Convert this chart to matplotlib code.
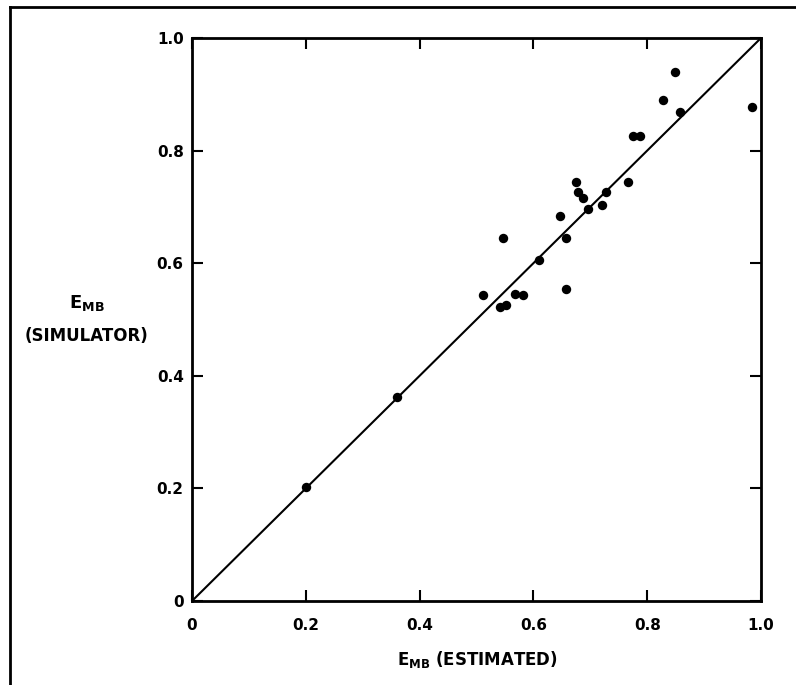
import matplotlib
matplotlib.use("Agg")
import matplotlib.pyplot as plt
from matplotlib.lines import Line2D

# Data
emb_estimated = [0.200, 0.361, 0.511, 0.542, 0.551, 0.547, 0.567, 0.582, 0.609,
                 0.647, 0.658, 0.658, 0.675, 0.679, 0.688, 0.696, 0.721, 0.728,
                 0.767, 0.775, 0.788, 0.828, 0.849, 0.858, 0.984]
emb_simulator = [0.202, 0.363, 0.544, 0.523, 0.525, 0.644, 0.546, 0.543, 0.606,
                 0.684, 0.645, 0.555, 0.745, 0.727, 0.716, 0.697, 0.704, 0.727,
                 0.745, 0.826, 0.826, 0.890, 0.940, 0.869, 0.878]
tick_values = [0, 0.2, 0.4, 0.6, 0.8, 1.0]
tick_labels = ["0", "0.2", "0.4", "0.6", "0.8", "1.0"]
diag = [0, 1]

plt.rcParams['font.family'] = ['DejaVu Sans']

W, H = 796, 685
fig = plt.figure(figsize=(W / 100, H / 100), dpi=100)
ax = fig.add_axes([192 / W, (H - 601) / H, (761 - 192) / W, (601 - 38) / H])

ax.plot(diag, diag, color='black', lw=1.5, solid_capstyle='butt')
ax.scatter(emb_estimated, emb_simulator, s=46, color='black', zorder=3,
           clip_on=False, linewidths=0)

ax.set_xlim(0, 1)
ax.set_ylim(0, 1)
ax.set_xticks(tick_values)
ax.set_yticks(tick_values)
ax.set_xticklabels(tick_labels, fontsize=11, fontweight='bold')
ax.set_yticklabels(tick_labels, fontsize=11, fontweight='bold')
ax.tick_params(axis='both', direction='in', length=8, width=1.5,
               top=True, right=True, colors='black')
ax.tick_params(axis='x', pad=12)
ax.tick_params(axis='y', pad=6)
for sp in ax.spines.values():
    sp.set_linewidth(2)

fig.text(477 / W, 1 - 660 / H, r'E$_{\mathbf{MB}}$ (ESTIMATED)', ha='center',
         va='center', fontsize=12, fontweight='bold')
fig.text(87 / W, 1 - 303 / H, r'E$_{\mathbf{MB}}$', ha='center', va='center',
         fontsize=13, fontweight='bold')
fig.text(87 / W, 1 - 336 / H, '(SIMULATOR)', ha='center', va='center',
         fontsize=12, fontweight='bold')

# outer frame (left and top edges visible)
fig.add_artist(Line2D([10 / W, 10 / W], [0, 1 - 7 / H], color='black', lw=2,
                      transform=fig.transFigure))
fig.add_artist(Line2D([10 / W, 1], [1 - 7 / H, 1 - 7 / H], color='black', lw=2,
                      transform=fig.transFigure))

fig.savefig('out.png', dpi=100)
